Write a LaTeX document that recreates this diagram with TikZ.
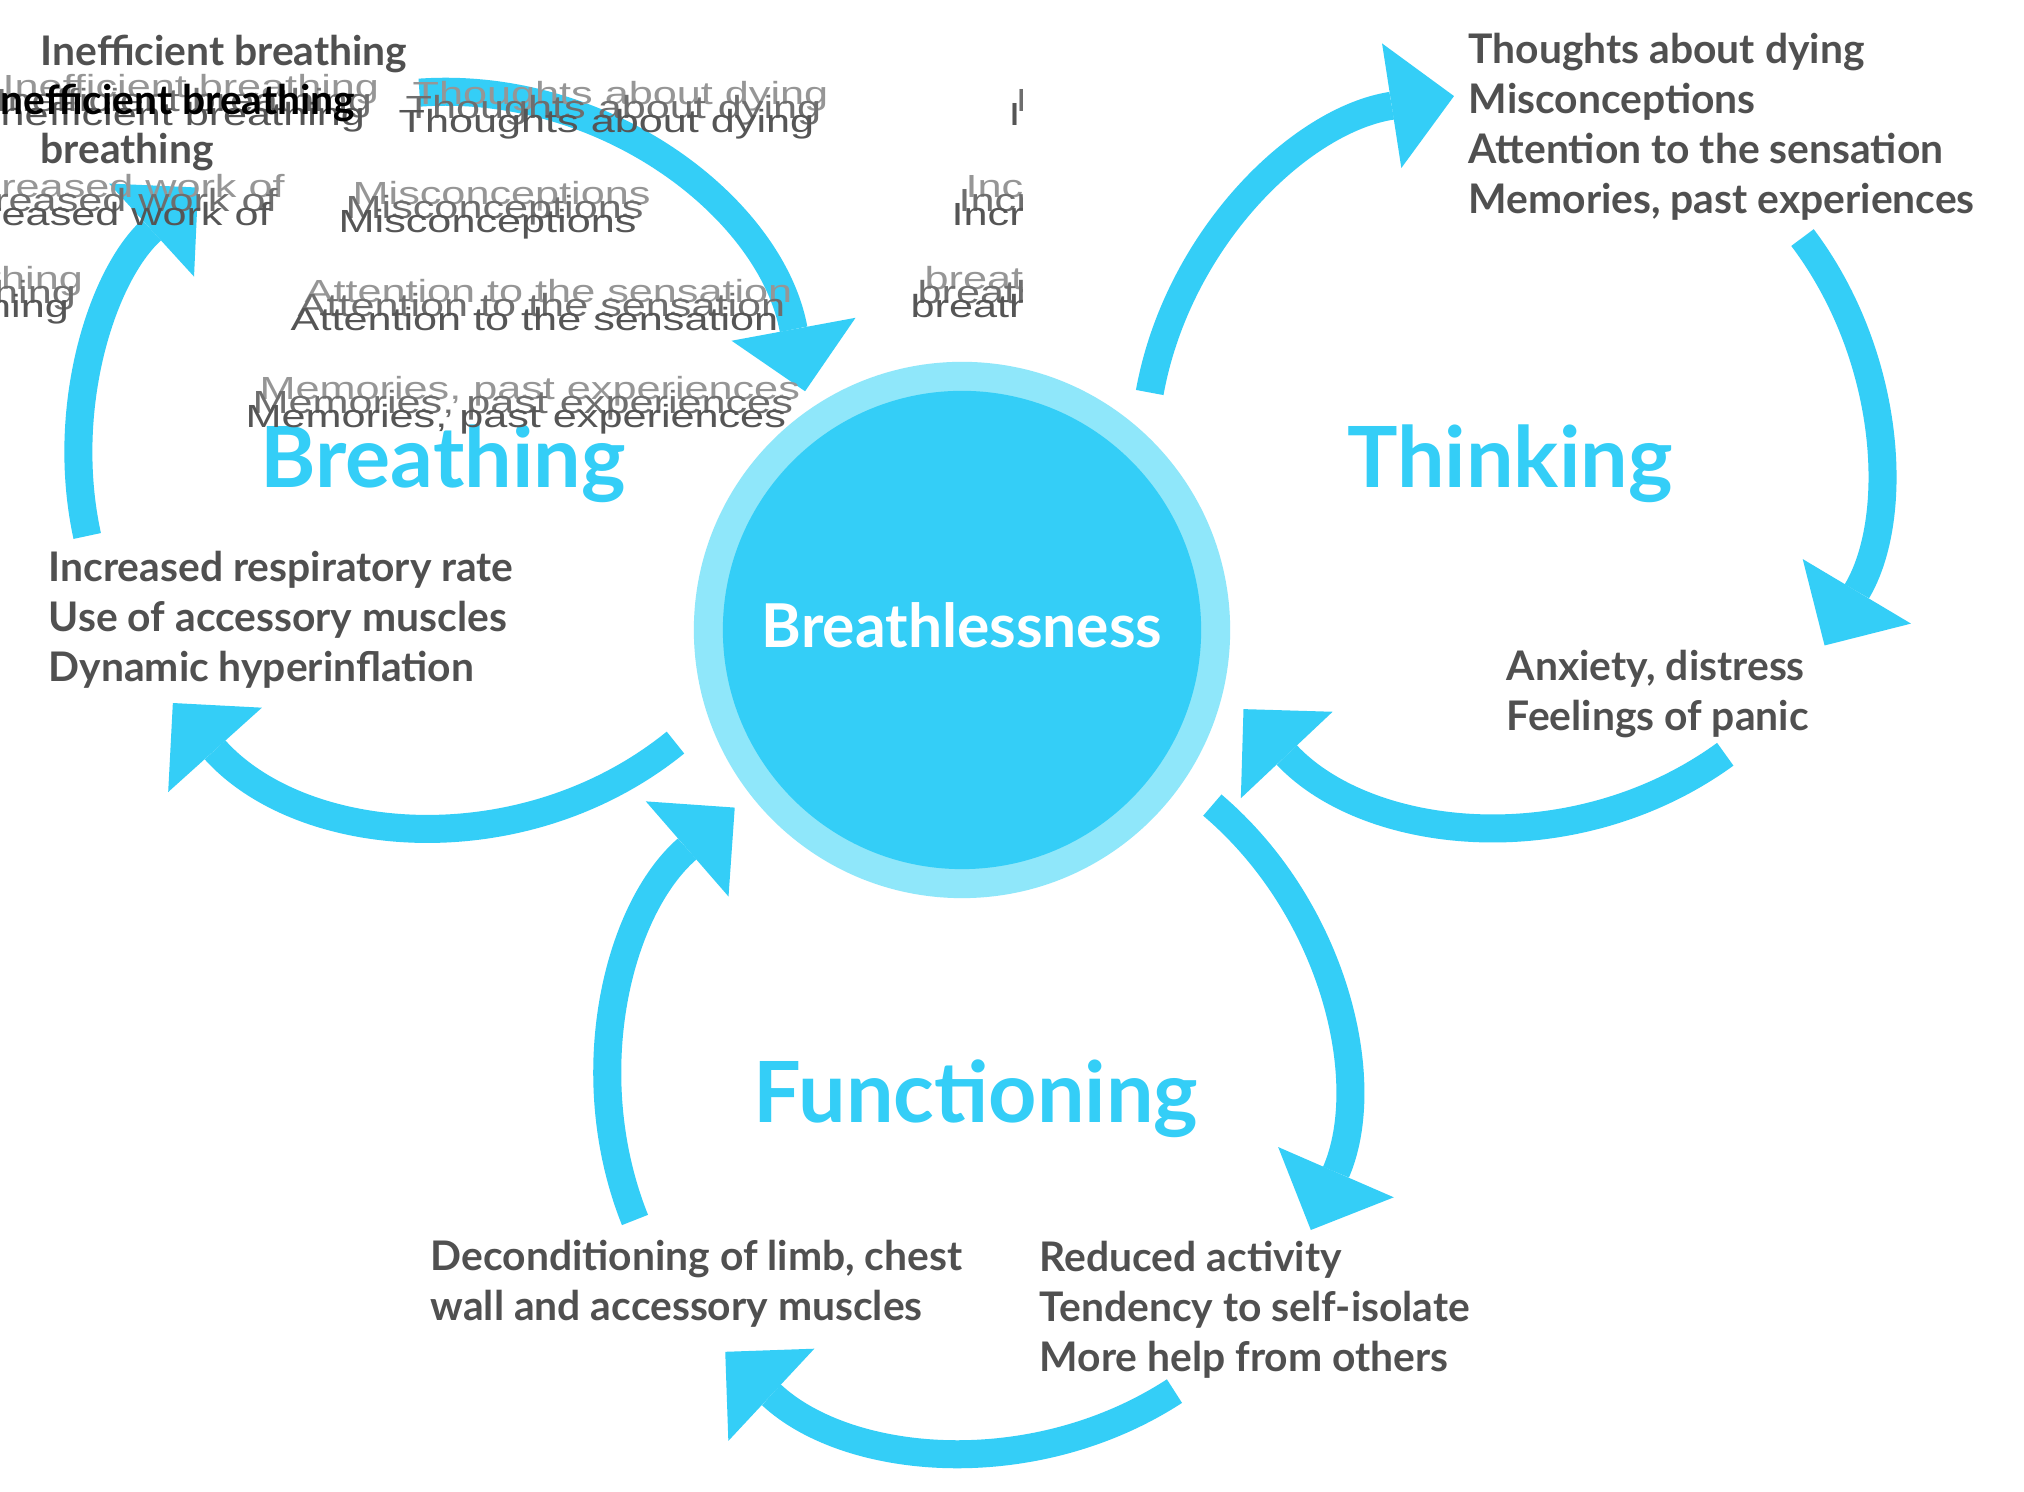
\documentclass[tikz,border=0pt]{standalone}
\usepackage{fontspec}
\setmainfont{Lato}
\newfontfamily\garblefamily{Liberation Sans}
\usetikzlibrary{arrows.meta,calc}
\definecolor{cyanM}{RGB}{52,206,247}
\definecolor{cyanL}{RGB}{143,231,250}
\definecolor{bodygray}{RGB}{80,80,80}
\definecolor{garbA}{RGB}{150,150,150}
\definecolor{garbB}{RGB}{110,110,110}
\definecolor{garbC}{RGB}{85,85,85}
\newcommand{\garbtext}[1]{\scalebox{1.35}[1]{#1}}
\newcommand{\garbline}[4]{%
  \node[garble, text=garbA] (#1a) at (#2+7,#3+14) {\garbtext{#4}};
  \node[garble, text=garbB] (#1b) at (#2,#3) {\garbtext{#4}};
  \node[garble, text=garbC] (#1c) at (#2-7,#3-14) {\garbtext{#4}};
}
\begin{document}
\begin{tikzpicture}[x=0.01cm,y=0.01cm,
  arr/.style={draw=cyanM, line width=0.28cm, -{Triangle[length=0.63cm,width=1.26cm,line width=0pt]}},
  body/.style={anchor=west, align=left, text=bodygray, font=\fontsize{11.6pt}{14.17pt}\selectfont\bfseries, inner sep=0pt},
  heading/.style={anchor=base, text=cyanM, font=\fontsize{24pt}{28pt}\selectfont\bfseries, inner sep=0pt},
  garble/.style={anchor=west, inner sep=0pt, font=\fontsize{9.1pt}{11pt}\selectfont\garblefamily},
]
\useasboundingbox (0,0) rectangle (2024,1492);
\fill[white] (0,0) rectangle (2024,1492);

% cycle centres
\coordinate (B) at (445,1034);
\coordinate (T) at (1510,1034);
\coordinate (F) at (975,408);

% Breathing cycle
\draw[arr] ($(B)+(192.3:3.66cm)$) arc[start angle=192.3,end angle=132.4,radius=3.66cm];
\draw[arr] ($(B)+(94:3.66cm)$) arc[start angle=94,end angle=10.5,radius=3.66cm];
\draw[arr] ($(B)+(-51:3.66cm)$) arc[start angle=-51,end angle=-138,radius=3.66cm];
% Thinking cycle
\draw[arr] ($(T)+(169.7:3.66cm)$) arc[start angle=169.7,end angle=98.8,radius=3.66cm];
\draw[arr] ($(T)+(37:3.66cm)$) arc[start angle=37,end angle=-30.8,radius=3.66cm];
\draw[arr] ($(T)+(-54:3.66cm)$) arc[start angle=-54,end angle=-136.7,radius=3.66cm];
% Functioning cycle
\draw[arr] ($(F)+(49.6:3.66cm)$) arc[start angle=49.6,end angle=-23.5,radius=3.66cm];
\draw[arr] ($(F)+(-57:3.66cm)$) arc[start angle=-57,end angle=-133,radius=3.66cm];
\draw[arr] ($(F)+(201.8:3.66cm)$) arc[start angle=201.8,end angle=131,radius=3.66cm];

% central circle
\node[circle, fill=cyanL, minimum size=5.36cm, inner sep=0pt] (outer) at (962,862) {};
\node[circle, fill=cyanM, minimum size=4.78cm, inner sep=0pt] (inner) at (outer) {};
\node[anchor=base, text=white, font=\fontsize{17.2pt}{20pt}\selectfont\bfseries, inner sep=0pt] (bl) at (962,844) {Breathlessness};

% headings
\node[heading] (hB) at (443,1004) {Breathing};
\node[heading] (hT) at (1510,1004) {Thinking};
\node[heading] (hF) at (976,369) {Functioning};

% body texts
\node[body] (tT) at (1468,1365) {Thoughts about dying\\Misconceptions\\Attention to the sensation\\Memories, past experiences};
\node[body] (tA) at (1506,798) {Anxiety, distress\\Feelings of panic};
\node[body] (tB) at (48,872) {Increased respiratory rate\\Use of accessory muscles\\Dynamic hyperinflation};
\node[body] (tD) at (430,208) {Deconditioning of limb, chest\\wall and accessory muscles};
\node[body] (tR) at (1039,182) {Reduced activity\\Tendency to self-isolate\\More help from others};

% glitched overlay, top left
\begin{scope}
\clip (0,1052) rectangle (1022,1492);
\node[body] (p1) at (40,1438) {Inefficient breathing};
\node[body] (p2) at (40,1340) {breathing};
\garbline{g1}{-5}{1389}{Inefficient breathing}
\garbline{g1w}{1015}{1389}{Inefficient breathing}
\node[body, text=black] (p3) at (-12,1389) {Inefficient breathing};
\garbline{g2}{-64}{1292}{Increased work of}
\garbline{g2w}{958}{1292}{Increased work of}
\garbline{g3}{-105}{1197}{breathing}
\garbline{g3w}{917}{1197}{breathing}
\garbline{g4}{405}{1382}{Thoughts about dying}
\garbline{g5}{345}{1282}{Misconceptions}
\garbline{g6}{297}{1187}{Attention to the sensation}
\garbline{g7}{252}{1087}{Memories, past experiences}
\end{scope}
\end{tikzpicture}
\end{document}
